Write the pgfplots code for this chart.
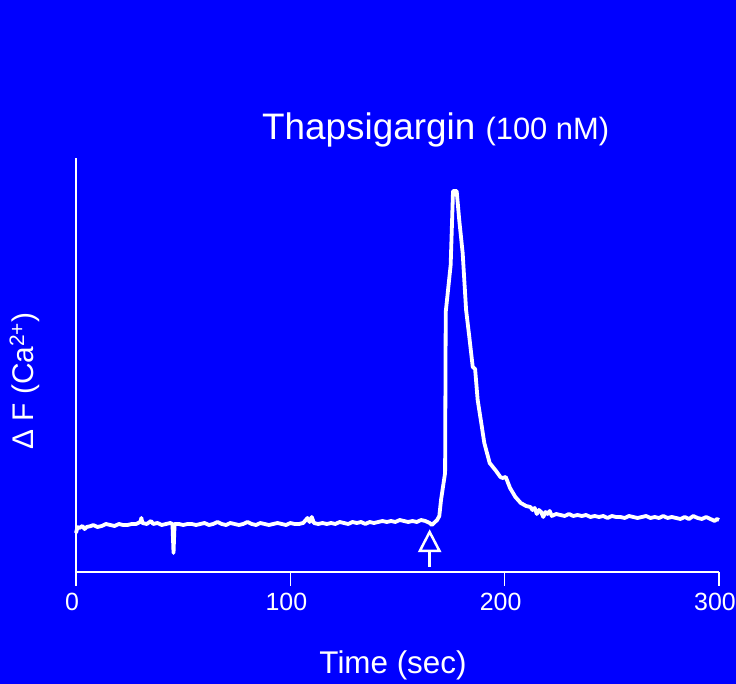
\documentclass[border=0pt]{standalone}
\usepackage{fontspec}
\setmainfont{Liberation Sans}
\usepackage{pgfplots}
\pgfplotsset{compat=1.18}
\definecolor{bg}{RGB}{0,0,255}
\begin{document}
\begin{tikzpicture}[x=1bp,y=1bp]
\fill[bg] (0,0) rectangle (736,684);
\useasboundingbox (0,0) rectangle (736,684);
\node[white,anchor=base west,inner sep=0pt] at (262,544) {\fontsize{37}{42}\selectfont Thapsigargin \fontsize{31}{36}\selectfont(100 nM)};
\node[white,anchor=base,inner sep=0pt] at (393,10) {\fontsize{31.5}{36}\selectfont Time (sec)};
\node[white,anchor=base,rotate=90,inner sep=0pt] at (33,303) {\fontsize{30}{36}\selectfont Δ F (Ca\textsuperscript{2+})};
\begin{axis}[
  at={(76bp,112bp)}, anchor=south west,
  scale only axis, width=643bp, height=414bp,
  xmin=0, xmax=300, ymin=0, ymax=414,
  axis x line=bottom, axis y line=left,
  axis line style={-, white, line width=1.5bp},
  ytick=\empty,
  xtick={0,100,200,300},
  xtick align=outside,
  major tick length=14bp,
  tick style={white, line width=1.5bp},
  /pgf/number format/assume math mode=true,
  xticklabel style={white, font=\fontsize{25}{30}\selectfont, anchor=north, xshift=-4bp, yshift=-4bp},
  clip=false,
]
\addplot[white, line width=3.8bp, line join=round] table {
x y
0 39
0.7 45
1.5 44
3 46
4 43
5 45
7 46
8 47
10 45
12 46
14 48
16 47
18 46
20 48
22 47
24 47
26 48
28 48
30 50
30.5 54
31 49
33 48
35 51
36 48
38 49
40 47
42 48
44 49
45 48
45.5 19
46 48
48 48
50 47
52 48
54 48
56 47
58 48
60 49
62 47
64 48
66 50
68 48
70 47
72 49
74 48
76 47
78 48
80 50
82 48
84 47
86 49
88 48
90 47
92 48
94 49
96 48
98 47
100 49
102 48
104 48
106 49
108 54
109 50
110 55
111 49
113 48
115 49
117 48
119 49
121 48
123 50
125 49
127 48
129 50
131 49
133 50
135 48
137 50
139 49
141 50
143 51
145 50
147 51
149 50
151 52
153 51
155 50
157 51
159 50
161 52
163 51
165 49
166 47
167.5 50
168.5 52
169.5 56
170.3 72
171 82
172.2 99
172.5 260
174.8 307
175.9 381
177.6 381
178.8 352
180.4 319
182.0 262
183.5 235
185.1 205
186.2 203
187.4 172
189 150
190.5 129
193 109
196 101
198 95
199 94
200.5 95
202.5 84
205 75
207.5 69
210 66
212 65
213 62
214 64
215 58
216 62
217 60
218 55
219 60
220 58
221 61
222 56
224 58
226 57
228 56
230 58
232 56
234 57
236 56
238 57
240 55
242 56
244 55
246 56
248 54
250 56
252 55
254 55
256 54
258 56
260 55
262 54
264 55
266 56
268 54
270 55
272 54
274 56
276 54
278 55
280 54
282 53
284 55
286 53
288 56
290 54
292 53
294 55
296 53
298 51
299 53
300 52
};
\draw[white, line width=2.5bp, line join=miter, fill=bg] (axis cs:165,40) -- (axis cs:169.6,21) -- (axis cs:160.4,21) -- cycle;
\draw[white, line width=3bp] (axis cs:165,21) -- (axis cs:165,5);
\end{axis}
\end{tikzpicture}
\end{document}
